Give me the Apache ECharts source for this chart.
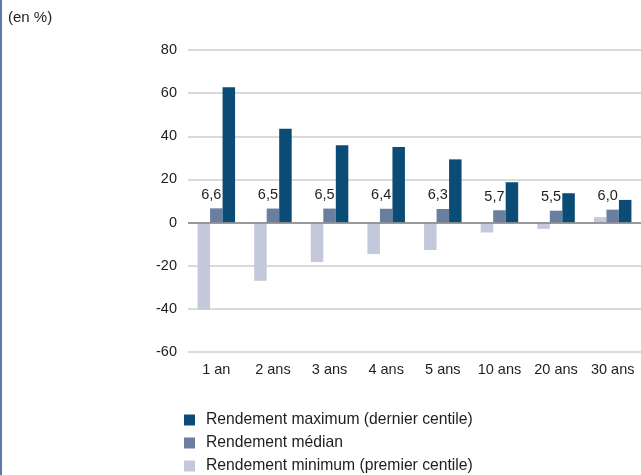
<!DOCTYPE html>
<html>
<head>
<meta charset="utf-8">
<script src="https://cdn.jsdelivr.net/npm/echarts@6/dist/echarts.min.js"></script>
<style>
html,body{margin:0;padding:0;background:#fff;}
#chart{width:641px;height:475px;}
</style>
</head>
<body>
<div id="chart"></div>
<script>
const categories = ['1 an', '2 ans', '3 ans', '4 ans', '5 ans', '10 ans', '20 ans', '30 ans'];
const maxValues = [62.7, 43.5, 35.8, 35.0, 29.3, 18.7, 13.6, 10.5];
const medianValues = [6.6, 6.5, 6.5, 6.4, 6.3, 5.7, 5.5, 6.0];
const minValues = [-40.4, -27.0, -18.3, -14.6, -12.7, -4.6, -2.9, 2.5];
const seriesNames = ['Rendement maximum (dernier centile)', 'Rendement médian', 'Rendement minimum (premier centile)'];
const yTicks = { min: -60, max: 80, interval: 20 };

const FONT = 'Liberation Sans';
const TXT = '#1e1e1e';
const legendTops = [412, 435, 458];
const chart = echarts.init(document.getElementById('chart'), null, { renderer: 'canvas' });
chart.setOption({
  animation: false,
  textStyle: { fontFamily: FONT },
  graphic: [
    { type: 'rect', left: 0, top: 0, shape: { width: 2, height: 475 }, style: { fill: '#5b7bab' } },
    { type: 'text', left: 8, top: 10, style: { text: '(en %)', font: '15px ' + FONT, fill: TXT } }
  ],
  grid: { left: 188, top: 50, width: 457, height: 302, containLabel: false },
  legend: seriesNames.map((n, i) => ({
    orient: 'vertical', left: 184, top: legendTops[i], padding: 0,
    data: [n],
    icon: 'rect', itemWidth: 11, itemHeight: 11,
    selectedMode: false,
    textStyle: { fontSize: 15.7, color: TXT, fontFamily: FONT, padding: [0, 0, 0, 6] }
  })),
  xAxis: {
    type: 'category', data: categories,
    axisLine: { show: false }, axisTick: { show: false },
    axisLabel: { fontSize: 14.5, color: TXT, margin: 10, fontFamily: FONT }
  },
  yAxis: {
    type: 'value', min: yTicks.min, max: yTicks.max, interval: yTicks.interval,
    axisLine: { show: false }, axisTick: { show: false },
    axisLabel: { fontSize: 14.5, color: TXT, margin: 11, fontFamily: FONT },
    splitLine: { lineStyle: { color: '#dadada', width: 2 } }
  },
  series: [
    {
      name: seriesNames[2], type: 'bar', data: minValues, barWidth: 12.5, barGap: '0%',
      itemStyle: { color: '#c3c9da' }
    },
    {
      name: seriesNames[1], type: 'bar', data: medianValues, barWidth: 12.5, barGap: '0%',
      itemStyle: { color: '#6a7f9f' },
      label: {
        show: true, position: 'top', distance: 6, offset: [-5, 0],
        fontSize: 14.5, color: TXT, fontFamily: FONT,
        formatter: p => p.value.toFixed(1).replace('.', ',')
      }
    },
    {
      name: seriesNames[0], type: 'bar', data: maxValues, barWidth: 12.5, barGap: '0%',
      itemStyle: { color: '#0b4c77' },
      markLine: {
        silent: true, symbol: 'none', label: { show: false },
        lineStyle: { color: '#858585', width: 1.5, type: 'solid' },
        data: [{ yAxis: 0 }]
      }
    }
  ]
});
</script>
</body>
</html>
